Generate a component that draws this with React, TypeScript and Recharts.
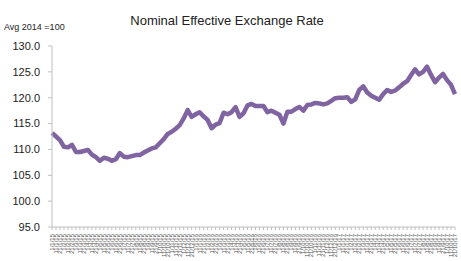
import React from "react";
import { LineChart, Line, XAxis, YAxis } from "recharts";

const dates: string[] = [
  "1/1/15","11/1/15","21/1/15","1/2/15","11/2/15","21/2/15","1/3/15","11/3/15","21/3/15","1/4/15","11/4/15","21/4/15",
  "1/5/15","11/5/15","21/5/15","1/6/15","11/6/15","21/6/15","1/7/15","11/7/15","21/7/15","1/8/15","11/8/15","21/8/15",
  "1/9/15","11/9/15","21/9/15","1/10/15","11/10/15","21/10/15","1/11/15","11/11/15","21/11/15","1/12/15","11/12/15","21/12/15",
  "1/1/16","11/1/16","21/1/16","1/2/16","11/2/16","21/2/16","1/3/16","11/3/16","21/3/16","1/4/16","11/4/16","21/4/16",
  "1/5/16","11/5/16","21/5/16","1/6/16","11/6/16","21/6/16","1/7/16","11/7/16","21/7/16","1/8/16","11/8/16","21/8/16",
  "1/9/16","11/9/16","21/9/16","1/10/16","11/10/16","21/10/16","1/11/16","11/11/16","21/11/16","1/12/16","11/12/16","21/12/16",
  "1/1/17","11/1/17","21/1/17","1/2/17","11/2/17","21/2/17","1/3/17","11/3/17","21/3/17","1/4/17","11/4/17","21/4/17",
  "1/5/17","11/5/17","21/5/17","1/6/17","11/6/17","21/6/17","1/7/17","11/7/17","21/7/17","1/8/17","11/8/17","21/8/17",
  "1/9/17","11/9/17","21/9/17","1/10/17","11/10/17","21/10/17"
];

const neer: number[] = [
  113.2,112.5,111.8,110.5,110.4,110.9,109.5,109.5,109.7,109.9,109.0,108.5,
  107.8,108.4,108.2,107.8,108.1,109.3,108.6,108.5,108.7,108.9,108.9,109.4,
  109.8,110.2,110.4,111.2,112.0,113.0,113.4,114.0,114.7,116.0,117.6,116.3,
  116.8,117.2,116.4,115.7,114.1,114.8,115.1,117.1,116.8,117.2,118.2,116.3,
  117.0,118.5,118.8,118.4,118.4,118.4,117.2,117.5,117.1,116.7,115.0,117.3,
  117.3,117.8,118.2,117.5,118.6,118.7,119.0,118.9,118.7,118.9,119.4,119.9,
  120.0,120.0,120.1,119.2,119.7,121.5,122.2,121.0,120.4,120.0,119.6,120.7,
  121.5,121.1,121.4,122.0,122.7,123.2,124.4,125.5,124.5,125.0,126.0,124.4,
  123.0,123.9,124.6,123.4,122.5,120.7
];

const yTicks: number[] = [95, 100, 105, 110, 115, 120, 125, 130];

const data = dates.map((d, i) => ({ date: d, value: neer[i] }));

const FONT = "'Liberation Sans', Arial, sans-serif";

const DateTick = (props: any) => {
  const { x, y, payload } = props;
  return (
    <text
      x={0}
      y={0}
      transform={`translate(${x + 2},${y + 2}) rotate(-90)`}
      textAnchor="end"
      fontSize={6}
      fill="#555"
      fontFamily={FONT}
    >
      {payload.value}
    </text>
  );
};

export default function App() {
  return (
    <div style={{ position: "absolute", left: 0, top: 0, width: 461, height: 261, background: "#fff", fontFamily: FONT }}>
      <div style={{ position: "absolute", left: 0, top: 13, width: 454, textAlign: "center", fontSize: 13, color: "#222" }}>
        Nominal Effective Exchange Rate
      </div>
      <div style={{ position: "absolute", left: 4, top: 22, fontSize: 9, color: "#222" }}>Avg 2014 =100</div>
      <LineChart width={461} height={261} data={data} margin={{ top: 46, right: 6, bottom: 0, left: 0 }}>
        <XAxis
          dataKey="date"
          interval={0}
          height={34}
          tick={<DateTick />}
          tickSize={3}
          tickLine={{ stroke: "#bfbfbf" }}
          axisLine={{ stroke: "#bfbfbf" }}
        />
        <YAxis
          domain={[95, 130]}
          ticks={yTicks}
          width={52}
          tickSize={4}
          tickMargin={8}
          tickFormatter={(v: number) => v.toFixed(1)}
          tick={{ fontSize: 11, fill: "#222", fontFamily: FONT }}
          tickLine={{ stroke: "#bfbfbf" }}
          axisLine={{ stroke: "#bfbfbf" }}
          allowDataOverflow
        />
        <Line
          type="linear"
          dataKey="value"
          stroke="#8064A2"
          strokeWidth={4.5}
          dot={false}
          isAnimationActive={false}
          strokeLinejoin="round"
        />
      </LineChart>
    </div>
  );
}
